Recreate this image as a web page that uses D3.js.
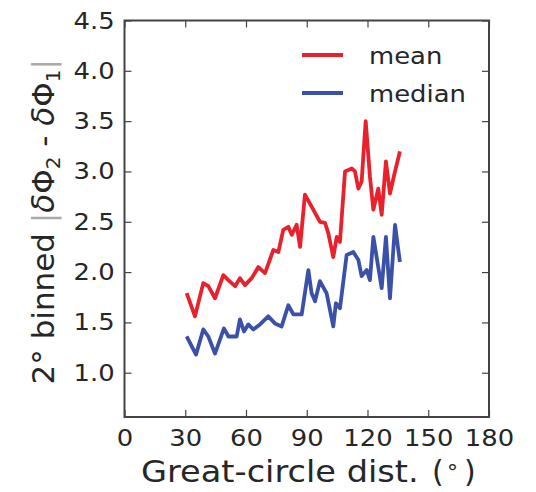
<!DOCTYPE html>
<html><head><meta charset="utf-8">
<script src="https://cdn.jsdelivr.net/npm/d3@7"></script>
<style>html,body{margin:0;padding:0;background:#fff;}</style>
</head><body>
<svg id="chart" width="536" height="492"></svg>
<script>
const meanDist = [30.7,34.8,38.9,41.4,44.7,48.8,51.3,54.6,57,59.5,62.8,66.1,69.4,73.5,76,78.4,80.9,82.6,85,86.7,89.1,92.4,96.5,99,100.6,103.1,104.8,106.4,108.9,112.2,113.8,115.5,117.1,119.1,121.2,122.9,125.3,127,129.1,131.1,133,136];
const meanVals = [1.79,1.56,1.89,1.86,1.74,1.97,1.92,1.86,1.94,1.87,1.94,2.05,1.99,2.22,2.20,2.42,2.45,2.37,2.47,2.25,2.77,2.65,2.50,2.49,2.39,2.15,2.35,2.30,3.00,3.03,3.00,2.83,2.90,3.50,2.95,2.62,2.83,2.57,3.10,2.78,2.95,3.20];
const medianDist = [30.7,35.3,38.9,41.4,44.7,49.1,51.3,55.4,57,59,61.1,63.6,66.9,71,74.3,77.6,80.9,83.4,87.5,90.8,92.4,94.1,96.5,99.8,103.1,104.4,106.4,109.7,113,115.5,117.1,119.6,121.2,122.9,125.3,127,129.1,131.1,133.6,136];
const medianVals = [1.36,1.18,1.43,1.36,1.19,1.44,1.36,1.36,1.53,1.41,1.48,1.43,1.48,1.56,1.49,1.46,1.67,1.58,1.58,2.02,1.79,1.71,1.91,1.79,1.46,1.69,1.64,2.17,2.20,2.12,1.96,2.02,1.92,2.35,2.05,1.84,2.35,1.74,2.47,2.10];
const xTicks = [0,30,60,90,120,150,180];
const yTicks = [1.0,1.5,2.0,2.5,3.0,3.5,4.0,4.5];
const seriesNames = ["mean","median"];
const seriesColors = ["#e8222c","#3b51a9"];

const svg = d3.select("#chart");
const L = 124.5, R = 489, T = 20.5, B = 417;
const x = d3.scaleLinear().domain([0,180]).range([L,R]);
const y = d3.scaleLinear().domain([0.56,4.5]).range([B,T]);
const font = "DejaVu Sans, sans-serif";
const axisCol = "#444";
const txtCol = "#262626";
const SX = 1.1;

// lines
const line = d3.line().x(d=>x(d[0])).y(d=>y(d[1]));
const series = [d3.zip(meanDist, meanVals), d3.zip(medianDist, medianVals)];
series.forEach((s,i)=>{
  svg.append("path").datum(s).attr("d", line)
    .attr("fill","none").attr("stroke", seriesColors[i])
    .attr("stroke-width",3.8).attr("stroke-linejoin","round");
});

// axes (ticks inside on all sides)
const tl = 7;
const gb = svg.append("g").attr("transform",`translate(0,${B})`)
  .call(d3.axisBottom(x).tickValues(xTicks).tickSize(-tl).tickSizeOuter(0).tickPadding(12));
const gt = svg.append("g").attr("transform",`translate(0,${T})`)
  .call(d3.axisTop(x).tickValues(xTicks).tickSize(-tl).tickSizeOuter(0).tickFormat(""));
const gl = svg.append("g").attr("transform",`translate(${L},0)`)
  .call(d3.axisLeft(y).tickValues(yTicks).tickSize(-tl).tickSizeOuter(0).tickPadding(9).tickFormat(d3.format(".1f")));
const gr = svg.append("g").attr("transform",`translate(${R},0)`)
  .call(d3.axisRight(y).tickValues(yTicks).tickSize(-tl).tickSizeOuter(0).tickFormat(""));
[gb,gt,gl,gr].forEach(g=>{
  g.select(".domain").remove();
  g.selectAll(".tick line").attr("stroke",axisCol).attr("stroke-width",1.2);
  g.selectAll("text").attr("font-family",font).attr("font-size",23.5).attr("fill",txtCol);
});
gb.selectAll("text").attr("dy","0.71em").attr("transform",`scale(${SX},1)`);
gl.selectAll("text").attr("transform",`scale(${SX},1)`);
svg.append("rect").attr("x",L).attr("y",T).attr("width",R-L).attr("height",B-T)
  .attr("fill","none").attr("stroke",axisCol).attr("stroke-width",2);

// x label
const xl = svg.append("g").attr("transform",`translate(141,482) scale(1.12,1)`);
xl.append("text").attr("x",0).attr("y",0).attr("font-family",font).attr("font-size",30)
  .attr("fill",txtCol).text("Great-circle dist.");
const xl2 = svg.append("text").attr("y",482).attr("font-family",font).attr("font-size",30).attr("fill",txtCol);
xl2.append("tspan").attr("x",432).text("(");
xl2.append("tspan").attr("x",447).attr("dy",-2).attr("font-size",22).text("\u00B0");
xl2.append("tspan").attr("x",464).attr("dy",2).text(")");

// y label
const yl = svg.append("text").attr("transform",`translate(54,${(T+B)/2+3}) rotate(-90)`)
  .attr("text-anchor","middle").attr("font-family",font).attr("font-size",31).attr("fill",txtCol);
yl.append("tspan").text("2\u00B0 binned ");
yl.append("tspan").attr("fill","#aaa").text("|");
yl.append("tspan").attr("font-style","italic").text("\u03B4");
yl.append("tspan").text("\u03A6");
yl.append("tspan").attr("font-size",20).attr("dy",6).text("2");
yl.append("tspan").attr("dy",-6).text(" - ");
yl.append("tspan").attr("font-style","italic").text("\u03B4");
yl.append("tspan").text("\u03A6");
yl.append("tspan").attr("font-size",20).attr("dy",6).text("1");
yl.append("tspan").attr("dy",-6).attr("fill","#aaa").text("|");

// legend
seriesNames.forEach((n,i)=>{
  const ly = 55 + i*38;
  svg.append("line").attr("x1",302).attr("x2",343).attr("y1",ly).attr("y2",ly)
    .attr("stroke",seriesColors[i]).attr("stroke-width",3.8);
  svg.append("text").attr("transform",`translate(369,${ly+9}) scale(1.1,1)`).attr("font-family",font)
    .attr("font-size",23.5).attr("fill",txtCol).text(n);
});
</script>
</body></html>
